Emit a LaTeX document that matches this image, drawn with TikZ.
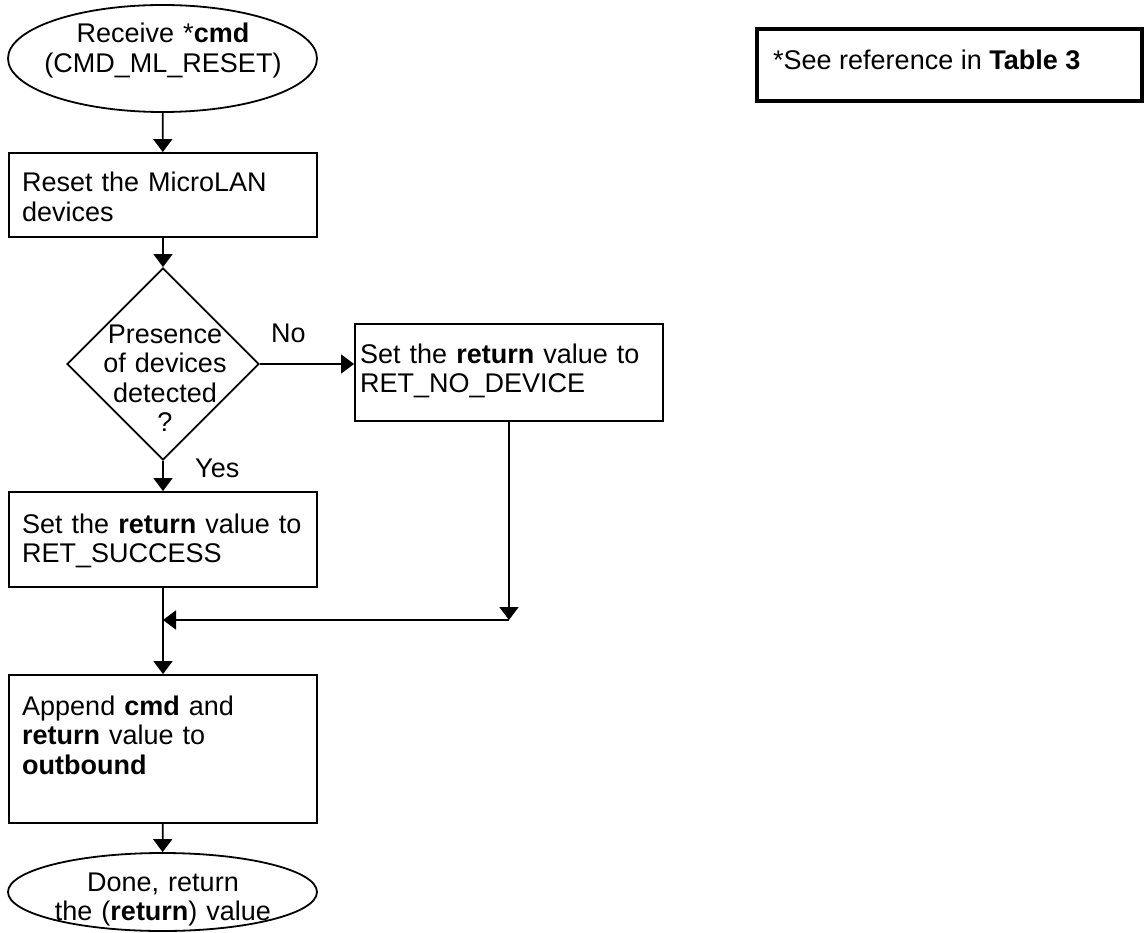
\documentclass[tikz,border=0pt]{standalone}
\usepackage{fontspec}
\setmainfont{Liberation Sans}
\usetikzlibrary{shapes.geometric,arrows.meta}
\begin{document}
\begin{tikzpicture}[x=1pt,y=-1pt,
  every node/.style={font=\fontsize{27}{29.5}\selectfont},
  flow/.style={draw, line width=1.8pt, inner sep=0pt},
  procbox/.style={flow, rectangle, minimum width=308pt},
  termnode/.style={flow, ellipse, minimum width=309pt},
  decision/.style={flow, diamond, minimum width=192pt, minimum height=192pt},
  notebox/.style={draw, line width=3.5pt, rectangle, inner sep=0pt,
                  minimum width=385pt, minimum height=72pt},
  txt/.style={inner sep=0pt, anchor=base west, text width=300pt, align=left},
  ctxt/.style={inner sep=0pt, anchor=base, text width=300pt, align=center},
  lbl/.style={inner sep=0pt, anchor=base west},
  arr/.style={line width=1.8pt, -{Triangle[width=19pt,length=13pt]}}
]
\useasboundingbox (0,0) rectangle (1147,933);

% shapes of the flow
\node[termnode, minimum height=107pt] (start) at (162.5,58.5) {};
\node[procbox, minimum height=84pt]  (reset)  at (163,195) {};
\node[decision]                      (dec)    at (163,364) {};
\node[procbox, minimum height=97pt]  (nodev)  at (509,372.5) {};
\node[procbox, minimum height=95pt]  (succ)   at (163,539.5) {};
\node[procbox, minimum height=148pt] (append) at (163,749) {};
\node[termnode, minimum height=78pt] (done)   at (162.5,892) {};
\node[notebox]                       (note)   at (949.5,65) {};

% texts
\node[ctxt] (startT) at (163,43) {Receive *\textbf{cmd}\\(CMD\_ML\_RESET)};
\node[txt] (resetT) at (22,192) {Reset the MicroLAN\\devices};
\node[ctxt] (decT) at (165,343) {Presence\\of devices\\detected\\?};
\node[txt] (nodevT) at (360,363) {Set the \textbf{return} value to\\RET\_NO\_DEVICE};
\node[txt] (succT) at (22,533) {Set the \textbf{return} value to\\RET\_SUCCESS};
\node[txt] (appendT) at (22,715) {Append \textbf{cmd} and\\\textbf{return} value to\\\textbf{outbound}};
\node[ctxt] (doneT) at (163,891) {Done, return\\the (\textbf{return}) value};
\node[lbl] (noL) at (271,342) {No};
\node[lbl] (yesL) at (195,477) {Yes};
\node[lbl] (noteT) at (773,70) {*See reference in \textbf{Table 3}};

% connectors
\coordinate (joinR) at (509,620);
\coordinate (joinL) at (163,620);
\draw[arr] (start) -- (reset);
\draw[arr] (reset) -- (dec);
\draw[arr] (dec.east) -- (dec.east -| nodev.west);
\draw[arr] (dec) -- (succ);
\draw[arr] (nodev.south) -- (joinR);
\draw[arr] (joinR) -- (joinL);
\draw[arr] (succ) -- (append);
\draw[arr] (append) -- (done);
\end{tikzpicture}
\end{document}
